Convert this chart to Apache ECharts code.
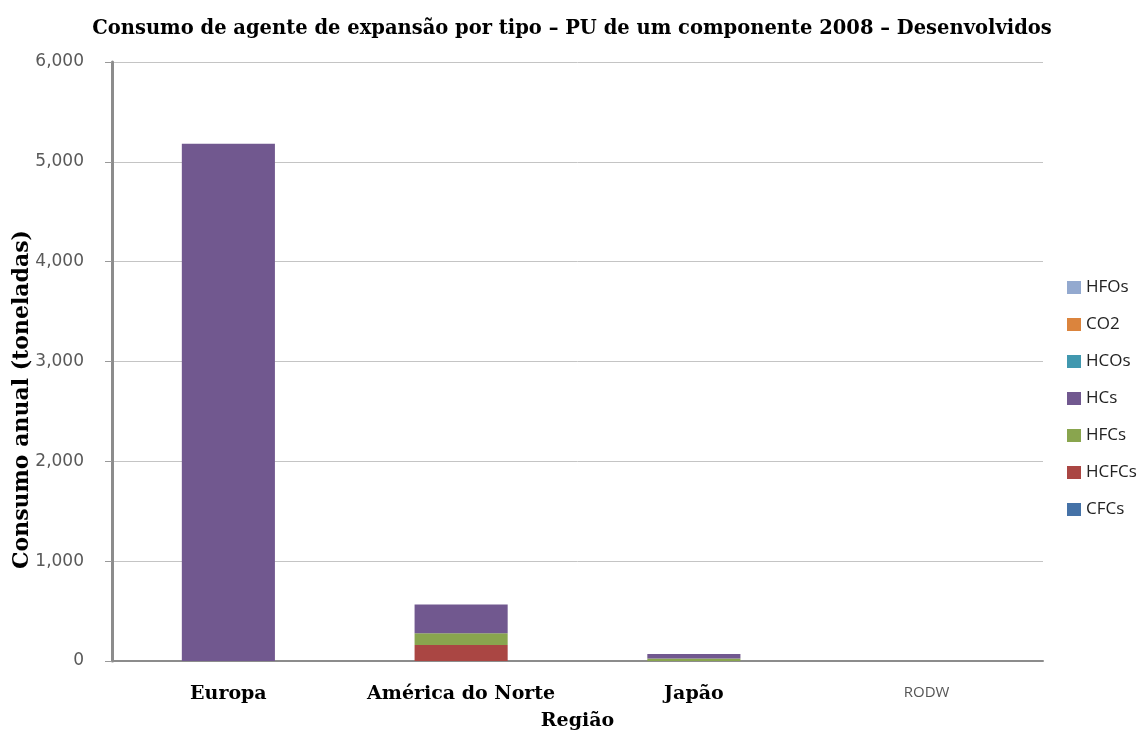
<!DOCTYPE html>
<html>
<head>
<meta charset="utf-8">
<script src="https://cdn.jsdelivr.net/npm/echarts@6/dist/echarts.min.js"></script>
<style>
  html, body { margin: 0; padding: 0; background: #fff; }
  #chart { width: 1144px; height: 731px; }
</style>
</head>
<body>
<div id="chart"></div>
<script>
// regiões e consumo por tipo (toneladas)
var regioes = ['Europa', 'América do Norte', 'Japão', 'RODW'];
var tipos = ['CFCs', 'HCFCs', 'HFCs', 'HCs', 'HCOs', 'CO2', 'HFOs'];
var cores = ['#4572A7', '#AA4643', '#89A54E', '#71588F', '#4198AF', '#DB843D', '#93A9CF'];
var CFCs = [0, 0, 0, 0];
var HCFCs = [0, 160, 0, 0];
var HFCs = [0, 117, 25, 0];
var HCs = [5180, 290, 45, 0];
var HCOs = [0, 0, 0, 0];
var CO2 = [0, 0, 0, 0];
var HFOs = [0, 0, 0, 0];
var valores = [CFCs, HCFCs, HFCs, HCs, HCOs, CO2, HFOs];
var yTicks = [0, 1000, 2000, 3000, 4000, 5000, 6000];

var serif = 'DejaVu Serif';
var sans = 'DejaVu Sans';

var chart = echarts.init(document.getElementById('chart'));

var series = tipos.map(function (t, i) {
  return {
    name: t,
    type: 'bar',
    stack: 'total',
    barWidth: '40%',
    itemStyle: { color: cores[i] },
    data: valores[i]
  };
});

var option = {
  animation: false,
  title: {
    text: 'Consumo de agente de expansão por tipo – PU de um componente 2008 – Desenvolvidos',
    left: 'center',
    top: 14,
    textStyle: { fontFamily: serif, fontWeight: 'bold', fontSize: 19.5, color: '#000' }
  },
  legend: {
    orient: 'vertical',
    left: 1062,
    top: 274,
    itemWidth: 14,
    itemHeight: 13,
    itemGap: 20,
    icon: 'rect',
    data: tipos.slice().reverse(),
    textStyle: { fontFamily: 'Open Sans', fontSize: 17, color: '#222' }
  },
  // sem ajuste automático da área do gráfico
  grid: { left: 112, right: 101, top: 62, bottom: 70, outerBoundsMode: 'none' },
  xAxis: {
    type: 'category',
    data: regioes,
    name: 'Região',
    nameLocation: 'middle',
    nameGap: 51,
    nameMoveOverlap: false,
    nameTextStyle: { fontFamily: serif, fontWeight: 'bold', fontSize: 19, color: '#000' },
    axisLine: { lineStyle: { color: '#8c8c8c', width: 2 } },
    axisTick: { length: 7, lineStyle: { color: '#bbbbbb', width: 2 } },
    axisLabel: {
      margin: 24,
      formatter: function (v) {
        return v === 'RODW' ? '{s|' + v + '}' : '{b|' + v + '}';
      },
      rich: {
        b: { fontFamily: serif, fontWeight: 'bold', fontSize: 19, color: '#000' },
        s: { fontFamily: 'Open Sans', fontSize: 15, color: '#555' }
      }
    }
  },
  yAxis: {
    type: 'value',
    min: yTicks[0],
    max: yTicks[yTicks.length - 1],
    interval: 1000,
    name: 'Consumo anual (toneladas)',
    nameLocation: 'middle',
    nameGap: 79,
    nameRotate: 90,
    nameMoveOverlap: false,
    nameTextStyle: {
      fontFamily: serif, fontWeight: 'bold', fontSize: 22, color: '#000',
      padding: [0, 76, 0, 0]
    },
    axisLine: { show: true, lineStyle: { color: '#8c8c8c', width: 3 } },
    axisTick: { show: true, length: 7, lineStyle: { color: '#999' } },
    splitLine: { lineStyle: { color: '#c4c4c4', width: 1 } },
    axisLabel: {
      margin: 28,
      fontFamily: sans,
      fontSize: 17,
      color: '#595959',
      formatter: function (v) { return v.toLocaleString('en-US'); }
    }
  },
  series: series
};

chart.setOption(option);
</script>
</body>
</html>
